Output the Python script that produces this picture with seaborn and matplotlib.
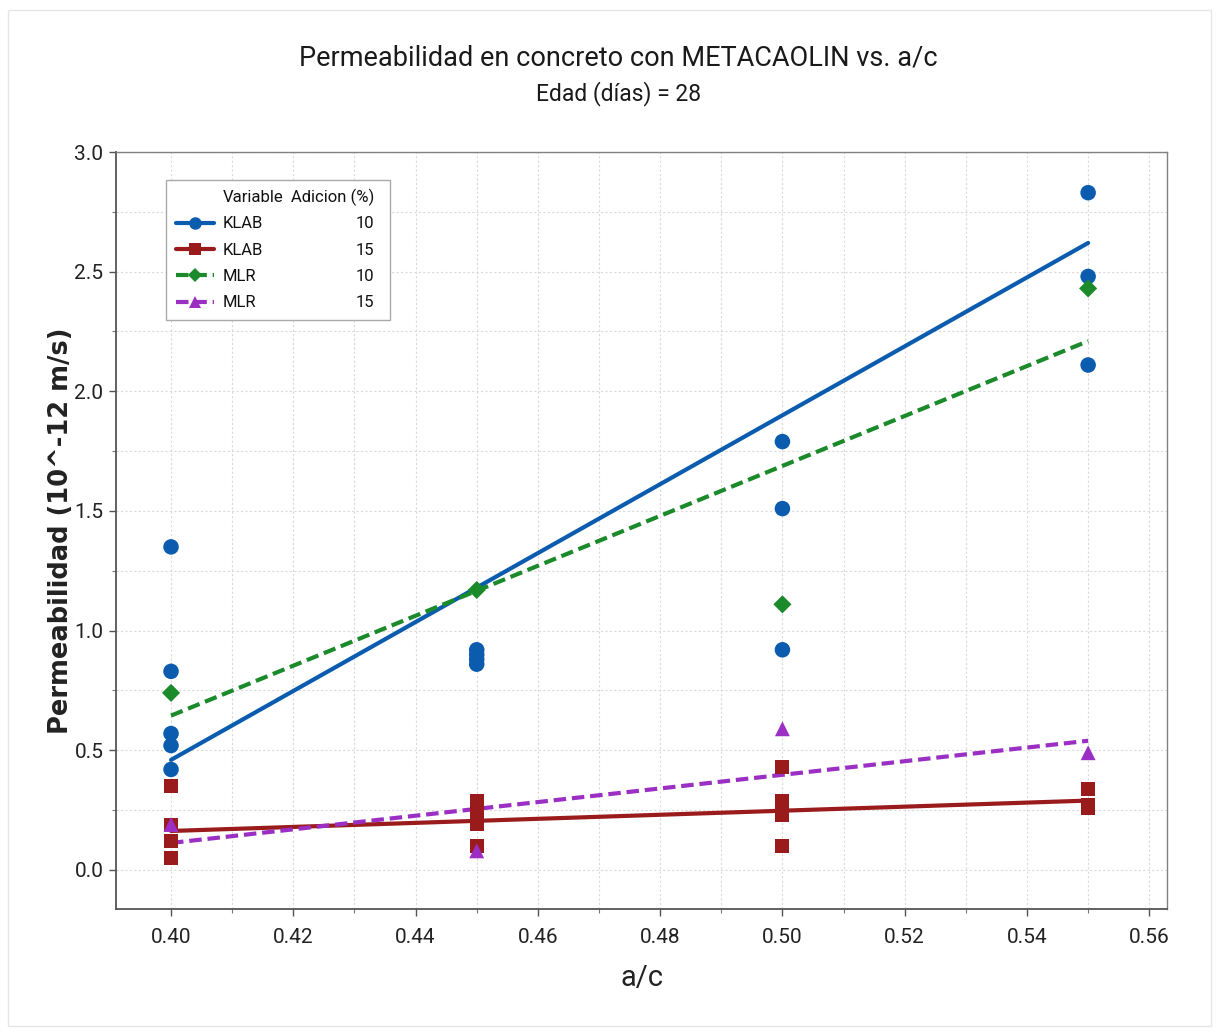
import matplotlib
matplotlib.use("Agg")
import matplotlib.pyplot as plt
from matplotlib.lines import Line2D
from matplotlib.patches import Rectangle
from matplotlib.ticker import MultipleLocator, FormatStrFormatter
import seaborn as sns
import pandas as pd

# ---------------- data ----------------
series_names = ["KLAB 10", "KLAB 15", "MLR 10", "MLR 15"]
legend_variable = ["KLAB", "KLAB", "MLR", "MLR"]
legend_adicion = ["10", "15", "10", "15"]

klab10_x = [0.40, 0.40, 0.40, 0.40, 0.40, 0.45, 0.45, 0.45, 0.45, 0.50, 0.50, 0.50, 0.55, 0.55, 0.55]
klab10_y = [1.35, 0.83, 0.57, 0.52, 0.42, 0.92, 0.90, 0.88, 0.86, 1.79, 1.51, 0.92, 2.83, 2.48, 2.11]

klab15_x = [0.40, 0.40, 0.40, 0.40, 0.45, 0.45, 0.45, 0.45, 0.50, 0.50, 0.50, 0.50, 0.55, 0.55, 0.55]
klab15_y = [0.35, 0.19, 0.12, 0.05, 0.29, 0.24, 0.19, 0.10, 0.43, 0.29, 0.23, 0.10, 0.34, 0.27, 0.26]

mlr10_x = [0.40, 0.45, 0.50, 0.55]
mlr10_y = [0.74, 1.17, 1.11, 2.43]

mlr15_x = [0.40, 0.45, 0.50, 0.55]
mlr15_y = [0.19, 0.08, 0.59, 0.49]

# fitted lines (values at the ends of each fit)
fit_x = [0.40, 0.55]
fit_klab10 = [0.46, 2.62]
fit_klab15 = [0.163, 0.29]
fit_mlr10 = [0.645, 2.21]
fit_mlr15 = [0.113, 0.54]

title = "Permeabilidad en concreto con METACAOLIN vs. a/c"
subtitle = "Edad (días) = 28"
xlabel = "a/c"
ylabel = "Permeabilidad (10^-12 m/s)"
legend_title_left = "Variable"
legend_title_right = "Adicion (%)"

# ---------------- styling ----------------
colors = {"KLAB 10": "#0b5cae", "KLAB 15": "#9a1b1b", "MLR 10": "#1a8a2a", "MLR 15": "#9b2fc4"}
markers = {"KLAB 10": "o", "KLAB 15": "s", "MLR 10": "D", "MLR 15": "^"}
msizes = {"KLAB 10": 125, "KLAB 15": 100, "MLR 10": 85, "MLR 15": 115}
dashes = {"KLAB 10": "", "KLAB 15": "", "MLR 10": (3, 1.4), "MLR 15": (3, 1.4)}

sns.set_theme(style="white")
main_font = ["Roboto", "DejaVu Sans"]
plt.rcParams["font.family"] = main_font

points = pd.concat([
    pd.DataFrame({"ac": klab10_x, "perm": klab10_y, "serie": "KLAB 10"}),
    pd.DataFrame({"ac": klab15_x, "perm": klab15_y, "serie": "KLAB 15"}),
    pd.DataFrame({"ac": mlr10_x, "perm": mlr10_y, "serie": "MLR 10"}),
    pd.DataFrame({"ac": mlr15_x, "perm": mlr15_y, "serie": "MLR 15"}),
], ignore_index=True)

fits = pd.concat([
    pd.DataFrame({"ac": fit_x, "perm": fit_klab10, "serie": "KLAB 10"}),
    pd.DataFrame({"ac": fit_x, "perm": fit_klab15, "serie": "KLAB 15"}),
    pd.DataFrame({"ac": fit_x, "perm": fit_mlr10, "serie": "MLR 10"}),
    pd.DataFrame({"ac": fit_x, "perm": fit_mlr15, "serie": "MLR 15"}),
], ignore_index=True)

fig = plt.figure(figsize=(12.19, 10.34), dpi=100)
fig.patch.set_facecolor("white")
ax = fig.add_axes([116 / 1219, 125 / 1034, 1051 / 1219, 757 / 1034])

sns.lineplot(data=fits, x="ac", y="perm", hue="serie", style="serie", palette=colors,
             dashes=dashes, linewidth=3.0, ax=ax, legend=False, zorder=2)

for s in series_names:
    sub = points[points["serie"] == s]
    sns.scatterplot(data=sub, x="ac", y="perm", ax=ax, color=colors[s], marker=markers[s],
                    s=msizes[s], edgecolor="none", linewidth=0, zorder=3, legend=False)

ax.set_xlim(0.391, 0.5629)
ax.set_ylim(-0.163, 3.0)
ax.xaxis.set_major_locator(MultipleLocator(0.02))
ax.xaxis.set_minor_locator(MultipleLocator(0.01))
ax.yaxis.set_major_locator(MultipleLocator(0.5))
ax.yaxis.set_minor_locator(MultipleLocator(0.25))
ax.xaxis.set_major_formatter(FormatStrFormatter("%.2f"))
ax.yaxis.set_major_formatter(FormatStrFormatter("%.1f"))
ax.grid(True, which="both", color="#dadada", linestyle=(0, (2, 2)), linewidth=0.8)
ax.set_axisbelow(True)
ax.tick_params(axis="both", which="major", direction="out", length=5, width=1, color="#555555",
               labelsize=15, labelcolor="#222222", bottom=True, left=True)
ax.tick_params(axis="x", which="major", pad=9)
ax.tick_params(axis="y", which="major", pad=4)
ax.tick_params(axis="both", which="minor", direction="out", length=3, width=0.8, color="#777777",
               bottom=True, left=True)
for side, sp in ax.spines.items():
    sp.set_color("#555555" if side in ("left", "bottom") else "#808080")
    sp.set_linewidth(1.3 if side in ("left", "bottom") else 1.0)

ax.set_xlabel(xlabel, fontsize=21, color="#222222", labelpad=12)
ax.set_ylabel(ylabel, fontsize=18.5, fontweight="bold", color="#222222", labelpad=0,
              family=["DejaVu Sans"])

fig.text(0.5075, 0.944, title, ha="center", va="center", fontsize=19.5, color="#1a1a1a")
fig.text(0.5075, 0.910, subtitle, ha="center", va="center", fontsize=16.5, color="#1a1a1a")

# legend
handles = [Line2D([], [], linestyle="none")]
labels = [legend_title_left]
for s, v in zip(series_names, legend_variable):
    ls = "-" if dashes[s] == "" else (0, (3, 1.4))
    handles.append(Line2D([], [], color=colors[s], linestyle=ls, linewidth=3,
                          marker=markers[s], markersize=9 if markers[s] != "D" else 7.5,
                          markeredgewidth=0))
    labels.append(v)
leg = ax.legend(handles, labels, loc="upper left", bbox_to_anchor=(0.0476, 0.963),
                frameon=True, fontsize=12, handlelength=2.3, handletextpad=0.5,
                borderpad=0.6, labelspacing=0.68, fancybox=False, borderaxespad=0)
for t in leg.get_texts():
    t.set_color("#111111")

fig.canvas.draw()
renderer = fig.canvas.get_renderer()
inv = ax.transAxes.inverted()
xr = inv.transform((374, 0))[0]
for i, t in enumerate(leg.get_texts()):
    bb = t.get_window_extent(renderer)
    cy = inv.transform((0, (bb.y0 + bb.y1) / 2))[1]
    label = legend_title_right if i == 0 else legend_adicion[i - 1]
    ax.text(xr, cy, label, transform=ax.transAxes, ha="right", va="center",
            fontsize=12, color="#111111", zorder=10)
# wider legend frame to hold the number column
lb = leg.get_window_extent(renderer)
x0, y0 = inv.transform((lb.x0, lb.y0))
x1, y1 = inv.transform((390, lb.y1))
ax.add_patch(Rectangle((x0, y0), x1 - x0, y1 - y0, transform=ax.transAxes,
                       facecolor="white", edgecolor="#aaaaaa", linewidth=1.0, zorder=4))
leg.get_frame().set_visible(False)
leg.set_zorder(5)

# faint outer border of the figure
fig.patches.append(Rectangle((8 / 1219, 8 / 1034), 1203 / 1219, 1016 / 1034,
                             transform=fig.transFigure, fill=False, edgecolor="#e6e6e6",
                             linewidth=1.0))

fig.savefig("out.png", dpi=100, facecolor="white")
